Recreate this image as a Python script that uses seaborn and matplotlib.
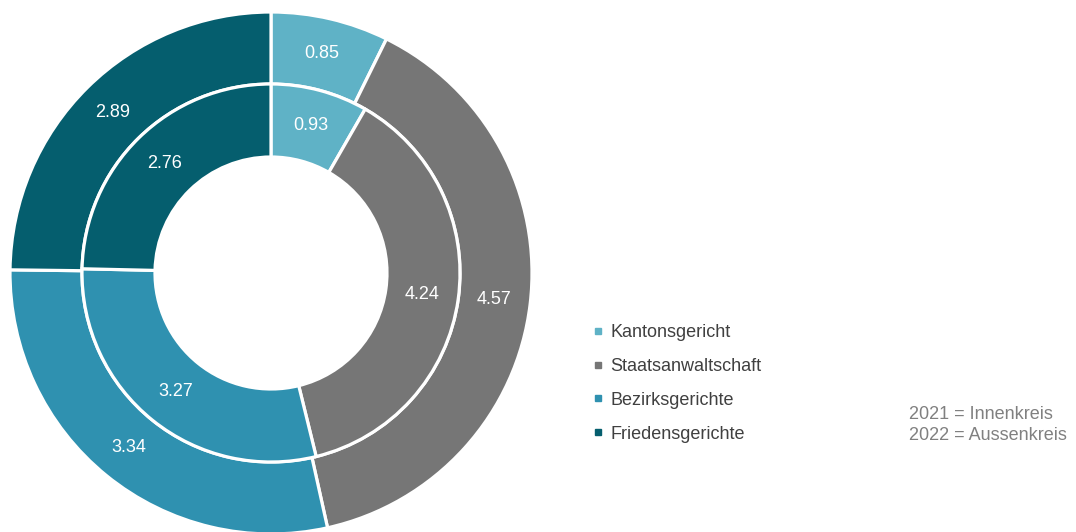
import numpy as np
import matplotlib
matplotlib.use("Agg")
import matplotlib.pyplot as plt
import seaborn as sns
from matplotlib.lines import Line2D

categories = ["Kantonsgericht", "Staatsanwaltschaft", "Bezirksgerichte", "Friedensgerichte"]
values_2021 = [0.93, 4.24, 3.27, 2.76]   # inner ring
values_2022 = [0.85, 4.57, 3.34, 2.89]   # outer ring
colors = ["#5fb2c6", "#767676", "#2f91b0", "#055e6e"]

sns.set_theme(style="white")
plt.rcParams['font.family'] = ['Liberation Sans', 'DejaVu Sans']

fig = plt.figure(figsize=(10.76, 5.32), dpi=100)
# pie center at (271, 273) px from top, radius 261 px
ax = fig.add_axes([10 / 1076, -2 / 532, 522 / 1076, 522 / 532])
ax.set_xlim(-1, 1)
ax.set_ylim(-1, 1)
ax.set_aspect("equal")
ax.axis("off")

r_out = 1.0
r_mid = 189 / 261
r_in = 116 / 261
wedge_kw = dict(edgecolor="white", linewidth=2.3)

ax.pie(values_2022, radius=r_out, colors=colors, startangle=90, counterclock=False,
       wedgeprops=dict(width=r_out - r_mid, **wedge_kw),
       labels=[f"{v:.2f}" for v in values_2022], labeldistance=(r_out + r_mid) / 2 / r_out,
       textprops=dict(color="white", fontsize=13, ha="center", va="center"))
ax.pie(values_2021, radius=r_mid, colors=colors, startangle=90, counterclock=False,
       wedgeprops=dict(width=r_mid - r_in, **wedge_kw),
       labels=[f"{v:.2f}" for v in values_2021], labeldistance=(r_mid + r_in) / 2 / r_mid,
       textprops=dict(color="white", fontsize=13, ha="center", va="center"))
ax.set_xlim(-1, 1)
ax.set_ylim(-1, 1)

handles = [Line2D([], [], marker="s", linestyle="none", markersize=4.5,
                  markerfacecolor=c, markeredgecolor=c) for c in colors]
leg = fig.legend(handles, categories, loc="upper left",
                 bbox_to_anchor=(585 / 1076, 1 - 317 / 532), frameon=False,
                 fontsize=13, handlelength=0.6, handletextpad=0.4,
                 labelspacing=0.93, borderaxespad=0)
for t in leg.get_texts():
    t.set_color("#404040")

fig.text(909 / 1076, 1 - 425 / 532, "2021 = Innenkreis\n2022 = Aussenkreis",
         fontsize=13, color="#808080", ha="left", va="center", linespacing=1.35)

fig.savefig("out.png", dpi=100)
